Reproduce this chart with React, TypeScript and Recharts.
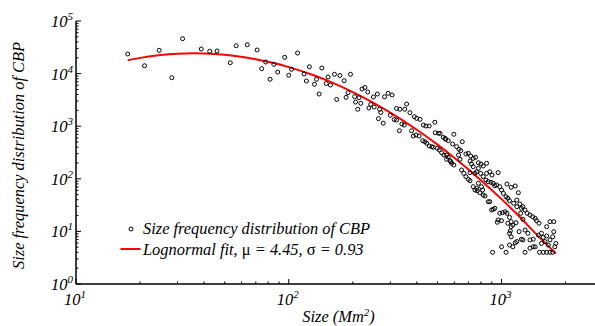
import { ComposedChart, Line, Scatter, XAxis, YAxis } from "recharts";

// CBP size frequency distribution
const cbpSize = [
  17.5, 21.0, 24.6, 28.2, 31.7, 38.8, 42.5, 46.0, 53.1, 56.6, 63.8, 71.0, 74.6, 77.9, 81.7, 85.1, 88.7, 95.7, 100, 103,
  110, 118, 121, 125, 132, 135, 139, 143, 150, 153, 157, 164, 168, 174, 182, 186, 190, 195, 204, 206,
  211, 214, 218, 221, 228, 235, 238, 243, 250, 252, 261, 264, 267, 271, 278, 282, 293, 300, 306, 313,
  321, 331, 321, 340, 349, 333, 351, 358, 371, 389, 399, 414, 429, 441, 457, 378, 385, 396, 410, 426,
  436, 445, 457, 470, 478, 499, 510, 523, 536, 552, 486, 505, 514, 532, 546, 562, 597, 589, 615, 631,
  643, 654, 552, 573, 583, 597, 698, 716, 736, 755, 778, 800, 820, 851, 649, 665, 680, 698, 711, 764,
  778, 798, 820, 845, 866, 805, 778, 750, 791, 820, 628, 638, 680, 736, 736, 769, 866, 914, 931, 982,
  1010, 1040, 1060, 955, 1000, 1090, 1110, 1130, 1170, 1180, 1220, 1260, 1290, 1360, 1400, 1440, 1460, 1500, 1090, 1110,
  1160, 1130, 1210, 1240, 1260, 1330, 1360, 1410, 1490, 1540, 1570, 1630, 1410, 1440, 1540, 1600, 1660, 1690, 1740, 1760,
  1690, 1760, 1630, 1800, 1780, 908, 1050, 1290, 1510, 1570, 1630, 1690, 1740, 1000, 1090, 711, 750, 851, 881, 964,
  764, 815, 836, 881, 914, 948, 982, 1000, 1020, 1050, 1070, 1090, 1060, 1110, 1160, 898, 964, 1070, 1110, 1100,
  1180, 1360, 1240, 1320, 1230, 1260, 1290, 1200, 1180, 1140, 902, 892, 929, 488, 543, 562, 577, 711, 723,
];
const cbpFreq = [
  23600, 14100, 27700, 8360, 46000, 29400, 26500, 26900, 16100, 33900, 35400, 28100, 12400, 16600, 7800, 15000, 10700, 20400, 9290, 12100,
  24600, 9820, 7230, 13500, 6260, 7800, 4090, 12800, 6480, 8610, 6070, 9700, 3220, 9200, 7330, 3540, 4330, 9700, 3640, 2880,
  2100, 3480, 2720, 5100, 5440, 4470, 2220, 2590, 3590, 2320, 4090, 1390, 2100, 1820, 1140, 3620, 4220, 1610, 3920, 1340,
  2170, 821, 1310, 1100, 1050, 2100, 2100, 2640, 1810, 1520, 1410, 1350, 1050, 1010, 1010, 821, 651, 680, 651, 530,
  507, 473, 421, 408, 397, 380, 353, 313, 283, 283, 1190, 733, 733, 615, 564, 530, 702, 459, 408, 364,
  342, 507, 235, 221, 197, 183, 305, 271, 245, 256, 202, 191, 175, 197, 147, 127, 110, 97.8, 92, 136,
  158, 127, 110, 94.9, 88.1, 70.8, 82.1, 61.2, 54.4, 49.2, 283, 235, 296, 170, 70.8, 59.4, 36.7, 26.3, 27.5, 22.1,
  22.7, 23.7, 22.1, 14.9, 16.0, 18.5, 15.3, 13.2, 14.6, 29.5, 33.2, 29.5, 25.5, 20.5, 19.0, 17.7, 16.0, 14.3, 9.2, 7.9,
  6.1, 5.1, 9.9, 7.1, 6.9, 9.2, 6.9, 7.1, 8.5, 9.2, 7.7, 8.2, 5.1, 5.1, 5.9, 6.4, 5.5, 6.9, 7.9, 9.9,
  15.3, 15.3, 12.3, 5.9, 5.1, 4, 4, 4, 4, 4, 4, 4, 4, 5.1, 5.5, 131, 127, 127, 136, 131,
  65.9, 61.2, 47.1, 36.7, 82.1, 76.2, 70.8, 61.2, 53.0, 45.7, 42.6, 38.3, 79.6, 68.9, 73.0, 25.5, 16.5, 14.3, 12.3, 10.2,
  6.4, 4.8, 27.5, 22.1, 22.1, 17.0, 10.6, 54.4, 39.5, 34.2, 118, 85.8, 73.9, 753, 589, 256, 211, 218, 191,
];

// lognormal fit curve (mu = 4.45, sigma = 0.93)
const fitSize = [17.5, 20, 25, 30, 36, 45, 55, 70, 85, 100, 130, 160, 200, 250, 300, 400, 500, 600, 800, 1000, 1200, 1500, 1800];
const fitFreq = [18000, 19900, 22500, 23800, 24300, 23600, 21900, 18800, 15900, 13300, 9390, 6730, 4450, 2780, 1810, 855, 446, 252, 94.1, 41.1, 20.0, 7.87, 3.8];

const xTicks = [10, 20, 30, 40, 50, 60, 70, 80, 90, 100, 200, 300, 400, 500, 600, 700, 800, 900, 1000, 2000];
const yTicks = [
  1, 2, 3, 4, 5, 6, 7, 8, 9,
  10, 20, 30, 40, 50, 60, 70, 80, 90,
  100, 200, 300, 400, 500, 600, 700, 800, 900,
  1000, 2000, 3000, 4000, 5000, 6000, 7000, 8000, 9000,
  10000, 20000, 30000, 40000, 50000, 60000, 70000, 80000, 90000, 100000,
];
const majorTicks = [1, 10, 100, 1000, 10000, 100000];
const exponents = ["0", "1", "2", "3", "4", "5"];

const points = cbpSize.map((x, i) => ({ x, y: cbpFreq[i] }));
const fit = fitSize.map((x, i) => ({ x, y: fitFreq[i] }));

const FONT = "'Liberation Serif', 'Times New Roman', serif";

const tickLabel = (v: number) => exponents[majorTicks.indexOf(v)];

const BottomTick = (props: any) => {
  const { x, y, payload } = props;
  const major = majorTicks.includes(payload.value);
  return (
    <g>
      <line x1={x} y1={y} x2={x} y2={y - (major ? 5 : 2.5)} stroke="#000" strokeWidth={1} />
      {major && (
        <text x={x - 1} y={y + 21} textAnchor="middle" fontFamily={FONT} fontStyle="italic" fontSize={16.5} fill="#000">
          10
          <tspan dy={-7} fontSize={11}>{tickLabel(payload.value)}</tspan>
        </text>
      )}
    </g>
  );
};

const TopTick = (props: any) => {
  const { x, y, payload } = props;
  const major = majorTicks.includes(payload.value);
  return <line x1={x} y1={y} x2={x} y2={y + (major ? 5 : 2.5)} stroke="#000" strokeWidth={1} />;
};

const LeftTick = (props: any) => {
  const { x, y, payload } = props;
  const major = majorTicks.includes(payload.value);
  return (
    <g>
      <line x1={x} y1={y} x2={x + (major ? 5 : 2.5)} y2={y} stroke="#000" strokeWidth={1} />
      {major && (
        <text x={x - 3} y={y + 6} textAnchor="end" fontFamily={FONT} fontStyle="italic" fontSize={16.5} fill="#000">
          10
          <tspan dy={-7} fontSize={11}>{tickLabel(payload.value)}</tspan>
        </text>
      )}
    </g>
  );
};

const Ring = (props: any) => (
  <circle cx={props.cx} cy={props.cy} r={2} fill="none" stroke="#000" strokeWidth={1} />
);

export default function App() {
  return (
    <div style={{ position: "absolute", left: 0, top: 0, width: 595, height: 326, background: "#fff" }}>
      <ComposedChart width={595} height={326} margin={{ top: 21, right: 0, bottom: 0, left: 0 }}>
        <XAxis
          dataKey="x"
          type="number"
          scale="log"
          domain={[10, 2750]}
          allowDataOverflow
          ticks={xTicks}
          interval={0}
          tick={BottomTick}
          tickLine={false}
          tickSize={0}
          tickMargin={0}
          height={42}
          axisLine={{ stroke: "#000", strokeWidth: 1.5 }}
          label={{
            content: (p: any) => (
              <text
                x={p.viewBox.x + p.viewBox.width / 2 + 3}
                y={p.viewBox.y + 38}
                textAnchor="middle"
                fontFamily={FONT}
                fontStyle="italic"
                fontSize={16.4}
                fill="#000"
              >
                Size (Mm<tspan dy={-6} fontSize={11}>2</tspan><tspan dy={6}>)</tspan>
              </text>
            ),
          }}
        />
        <XAxis
          xAxisId="top"
          orientation="top"
          dataKey="x"
          type="number"
          scale="log"
          domain={[10, 2750]}
          allowDataOverflow
          ticks={xTicks}
          interval={0}
          tick={TopTick}
          tickLine={false}
          tickSize={0}
          tickMargin={0}
          height={0}
          axisLine={{ stroke: "#000", strokeWidth: 1.5 }}
        />
        <YAxis
          dataKey="y"
          type="number"
          scale="log"
          domain={[1, 100000]}
          allowDataOverflow
          ticks={yTicks}
          interval={0}
          tick={LeftTick}
          tickLine={false}
          tickSize={0}
          tickMargin={0}
          width={76}
          axisLine={{ stroke: "#000", strokeWidth: 1.5 }}
          label={{
            content: (p: any) => {
              const cx = p.viewBox.x + 18;
              const cy = p.viewBox.y + p.viewBox.height / 2 + 3;
              return (
                <text
                  x={cx}
                  y={cy}
                  transform={`rotate(-90 ${cx} ${cy})`}
                  textAnchor="middle"
                  dominantBaseline="central"
                  fontFamily={FONT}
                  fontStyle="italic"
                  fontSize={16.4}
                  fill="#000"
                >
                  Size frequency distribution of CBP
                </text>
              );
            },
          }}
        />
        <Scatter data={points} dataKey="y" shape={Ring} isAnimationActive={false} />
        <Line
          data={fit}
          dataKey="y"
          type="monotone"
          stroke="#ff0000"
          strokeWidth={2}
          dot={false}
          isAnimationActive={false}
        />
      </ComposedChart>
      <svg
        width={280}
        height={46}
        style={{ position: "absolute", left: 115, top: 218 }}
        fontFamily={FONT}
        fontStyle="italic"
        fontSize={16.4}
      >
        <circle cx={16} cy={11} r={2} fill="none" stroke="#000" strokeWidth={1} />
        <text x={28} y={15.5} fill="#000">Size frequency distribution of CBP</text>
        <line x1={5.5} y1={31} x2={25.5} y2={31} stroke="#ff0000" strokeWidth={2} />
        <text x={28} y={37} fill="#000">
          Lognormal fit, <tspan fontStyle="normal">μ</tspan> = 4.45, <tspan fontStyle="normal">σ</tspan> = 0.93
        </text>
      </svg>
    </div>
  );
}
